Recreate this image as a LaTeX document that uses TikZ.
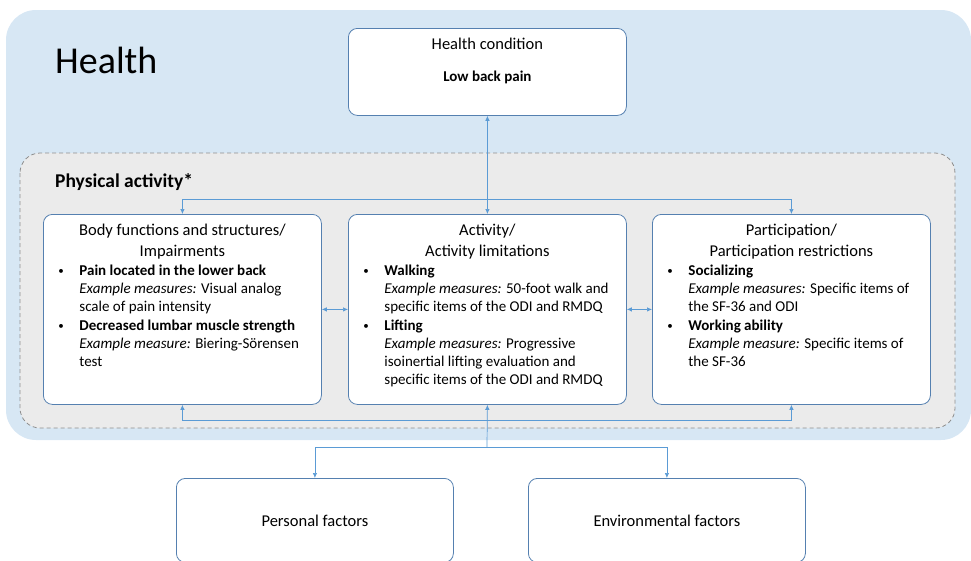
\documentclass[tikz,border=0pt]{standalone}
\usepackage{fontspec}
\setmainfont{Carlito}
\usetikzlibrary{arrows.meta}

\definecolor{healthblue}{HTML}{D7E7F4}
\definecolor{pagray}{HTML}{EBEBEB}
\definecolor{dashgray}{HTML}{8E8E8E}
\definecolor{boxblue}{HTML}{5580B0}
\definecolor{linkblue}{HTML}{5B9BD5}

% title of an ICF box and one bullet item
\newcommand{\boxtitle}[1]{{\centering\fontsize{16.5}{20.5}\selectfont\strut #1\par}\vspace{1pt}}
\newcommand{\icfbullet}{\raisebox{1pt}{\fontsize{11}{11}\selectfont\textbullet}}
\newcommand{\icfitem}[2]{{\leftskip=21pt\noindent\llap{\makebox[21pt][l]{\icfbullet}}\textbf{#1}\\#2\par}}
\newcommand{\icftext}[1]{\parbox[t][176pt][t]{248pt}{\raggedright\fontsize{15}{18.2}\selectfont #1}}

\tikzset{
  icfbox/.style={draw=boxblue, fill=white, rounded corners=9pt, line width=0.8pt,
    inner xsep=15pt, inner ysep=7pt, anchor=north west},
  factorbox/.style={icfbox, inner sep=0pt, minimum width=277pt, minimum height=84pt,
    font=\fontsize{16.5}{20}\selectfont},
  link/.style={linkblue, line width=0.7pt},
}

\begin{document}
\begin{tikzpicture}[x=1pt, y=-1pt, >={Latex[length=5pt,width=4.5pt]}]
\clip (0,0) rectangle (971,560);

% Health area
\fill[healthblue, rounded corners=30pt] (6,10) rectangle (971,440);
\node[anchor=base west, inner sep=0pt] (health) at (55,73) {\fontsize{38}{40}\selectfont Health};

% Physical activity area
\draw[dashgray, fill=pagray, line width=0.8pt, dash pattern=on 4pt off 3pt, rounded corners=20pt] (20,153) rectangle (955,428);
\node[anchor=base west, inner sep=0pt] (phys) at (55,187) {\fontsize{19.5}{22}\selectfont\bfseries Physical activity*};

% Health condition
\node[icfbox] (hc) at (348,28) {\parbox[t][73pt][t]{248pt}{\centering
  \fontsize{16.5}{20.5}\selectfont\strut Health condition\par\vspace{13.5pt}
  {\fontsize{15}{18}\selectfont\bfseries Low back pain\par}}};

% ICF components
\node[icfbox] (body) at (43,214) {\icftext{%
  \boxtitle{Body functions and structures/\\Impairments}
  \icfitem{Pain located in the lower back}{\textit{Example measures:} Visual analog\\scale of pain intensity}
  \icfitem{Decreased lumbar muscle strength}{\textit{Example measure:} Biering-Sörensen\\test}}};

\node[icfbox] (act) at (348,214) {\icftext{%
  \boxtitle{Activity/\\Activity limitations}
  \icfitem{Walking}{\textit{Example measures:} 50-foot walk and\\specific items of the ODI and RMDQ}
  \icfitem{Lifting}{\textit{Example measures:} Progressive\\isoinertial lifting evaluation and\\specific items of the ODI and RMDQ}}};

\node[icfbox] (part) at (652,214) {\icftext{%
  \boxtitle{Participation/\\Participation restrictions}
  \icfitem{Socializing}{\textit{Example measures:} Specific items of\\the SF-36 and ODI}
  \icfitem{Working ability}{\textit{Example measure:} Specific items of\\the SF-36}}};

% Contextual factors
\node[factorbox] (pers) at (176,478) {Personal factors};
\node[factorbox] (env) at (528,478) {Environmental factors};

% Links
\draw[link,<->] (hc.south) -- (act.north);
\draw[link,<->] (body.north) -- ++(0,-15) -| (part.north);
\draw[link,<->] (body.south) -- ++(0,16) -| (part.south);
\draw[link,<->] (body.east) -- (act.west);
\draw[link,<->] (act.east) -- (part.west);

\coordinate (split) at (487,447);
\draw[link,->] (split) -- (act.south);
\draw[link,->] (split) -| (pers.north);
\draw[link,->] (split) -| (env.north);

\end{tikzpicture}
\end{document}
